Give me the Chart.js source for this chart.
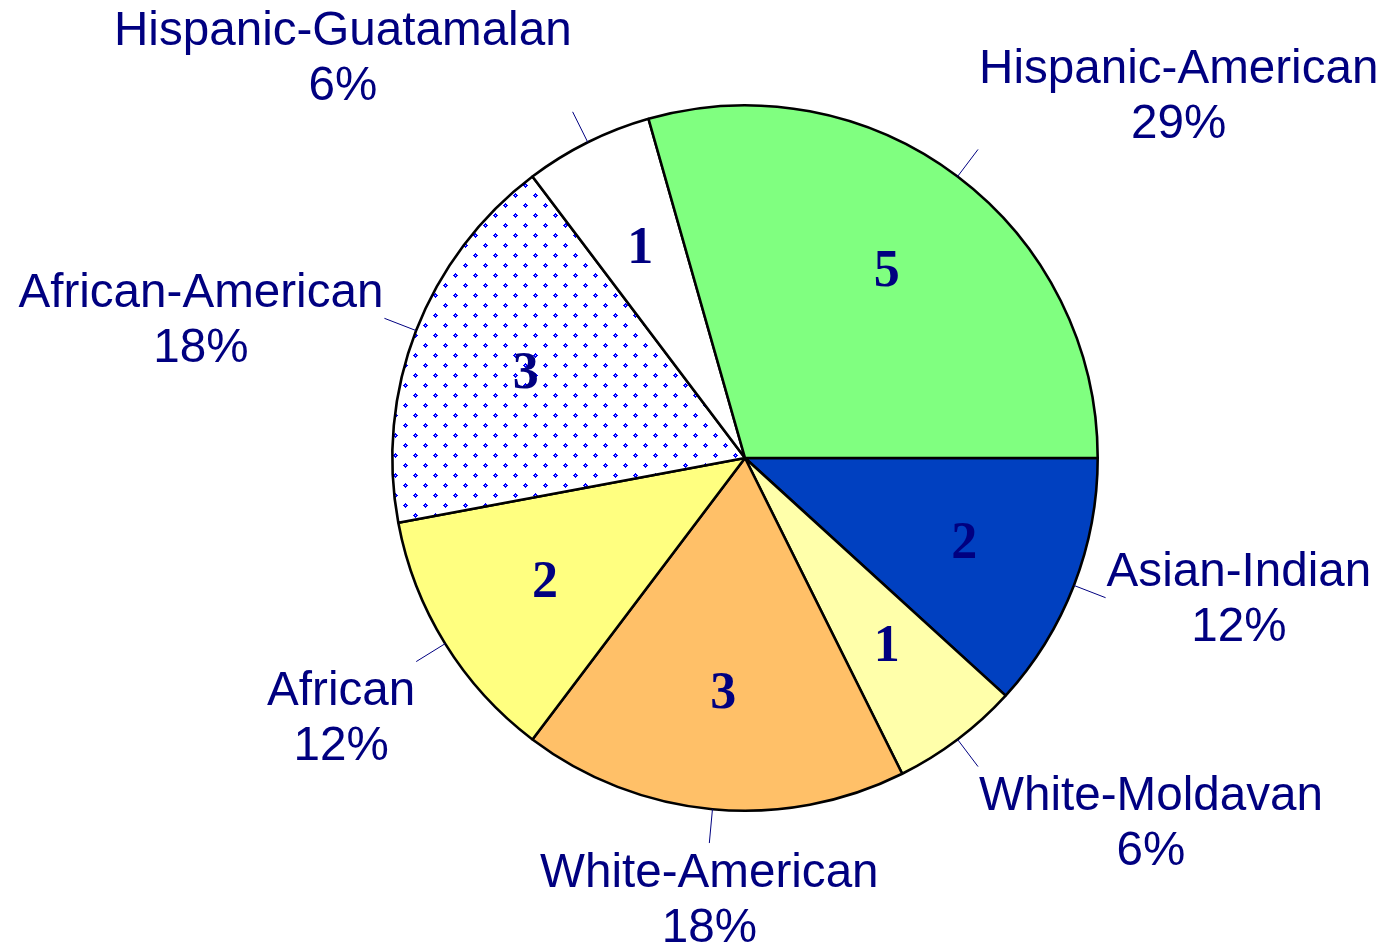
<!DOCTYPE html>
<html>
<head>
<meta charset="utf-8">
<script src="https://cdn.jsdelivr.net/npm/chart.js@4.4.1/dist/chart.umd.min.js"></script>
<style>
  html, body { margin: 0; padding: 0; background: #ffffff; }
  #wrap { width: 1384px; height: 947px; position: relative; }
</style>
</head>
<body>
<div id="wrap"><canvas id="c" width="1384" height="947"></canvas></div>
<script>
// Data (clockwise from 3 o'clock)
const categories = ['Asian-Indian', 'White-Moldavan', 'White-American', 'African', 'African-American', 'Hispanic-Guatamalan', 'Hispanic-American'];
const counts = [2, 1, 3, 2, 3, 1, 5];

const sliceColors = ['#0040C0', '#FFFFAA', '#FFC068', '#FFFF80', 'PATTERN', '#FFFFFF', '#80FF80'];

function makeDotPattern() {
  const t = document.createElement('canvas');
  t.width = 20; t.height = 20;
  const g = t.getContext('2d');
  g.fillStyle = '#ffffff';
  g.fillRect(0, 0, 20, 20);
  function motif(cx, cy) {
    g.fillStyle = '#0000FF';
    [[0,-2],[0,2],[-2,0],[2,0],[-1,-1],[1,-1],[-1,1],[1,1],[-1,0],[1,0],[0,-1],[0,1]].forEach(p => g.fillRect(cx + p[0], cy + p[1], 1, 1));
    g.fillStyle = '#C8C8FF';
    g.fillRect(cx, cy, 1, 1);
  }
  motif(5, 5);
  motif(15, 15);
  const ctx = document.getElementById('c').getContext('2d');
  return ctx.createPattern(t, 'repeat');
}

const pattern = makeDotPattern();
const bg = sliceColors.map(c => c === 'PATTERN' ? pattern : c);
const total = counts.reduce((a, b) => a + b, 0);

const labelPlugin = {
  id: 'pieLabels',
  afterDatasetsDraw(chart) {
    const ctx = chart.ctx;
    const meta = chart.getDatasetMeta(0);
    ctx.save();
    meta.data.forEach((arc, i) => {
      const p = arc.getProps(['x', 'y', 'startAngle', 'endAngle', 'outerRadius'], true);
      const mid = (p.startAngle + p.endAngle) / 2;
      const c = Math.cos(mid), s = Math.sin(mid);

      // value inside slice
      ctx.fillStyle = '#000080';
      ctx.font = 'bold 52px "Liberation Serif", "Times New Roman", serif';
      ctx.textAlign = 'center';
      ctx.textBaseline = 'middle';
      const ri = p.outerRadius * 0.667;
      ctx.fillText(String(counts[i]), p.x + c * ri, p.y + s * ri + 2);

      // leader line
      const r0 = p.outerRadius, r1 = p.outerRadius + 34;
      const ex = p.x + c * r1, ey = p.y + s * r1;
      ctx.strokeStyle = '#000080';
      ctx.lineWidth = 1;
      ctx.beginPath();
      ctx.moveTo(p.x + c * r0, p.y + s * r0);
      ctx.lineTo(ex, ey);
      ctx.stroke();

      // category label + percentage
      const pct = Math.round(counts[i] / total * 100) + '%';
      const lines = [categories[i], pct];
      ctx.font = '47.6px "Liberation Sans", Arial, sans-serif';
      const w = Math.max(...lines.map(l => ctx.measureText(l).width));
      const lh = 55;
      const h = lh * lines.length;
      const fx = Math.abs(c) > 0.2 ? Math.sign(c) : 0;
      const fy = Math.abs(s) > 0.45 ? Math.sign(s) : 0;
      const cx = ex + fx * (w / 2 + 1);
      const cy = ey + fy * h / 2;
      ctx.textAlign = 'center';
      ctx.textBaseline = 'alphabetic';
      lines.forEach((l, k) => {
        const midY = cy - h / 2 + lh * k + lh / 2;
        ctx.fillText(l, cx, midY + 16);
      });
    });
    ctx.restore();
  }
};

new Chart(document.getElementById('c'), {
  type: 'pie',
  data: {
    labels: categories,
    datasets: [{
      data: counts,
      backgroundColor: bg,
      borderColor: '#000000',
      borderWidth: 2.6,
      hoverOffset: 0
    }]
  },
  options: {
    responsive: false,
    animation: false,
    events: [],
    rotation: 90,
    layout: { padding: { left: 391, right: 285, top: 104, bottom: 135 } },
    plugins: { legend: { display: false }, tooltip: { enabled: false } }
  },
  plugins: [labelPlugin]
});
</script>
</body>
</html>
